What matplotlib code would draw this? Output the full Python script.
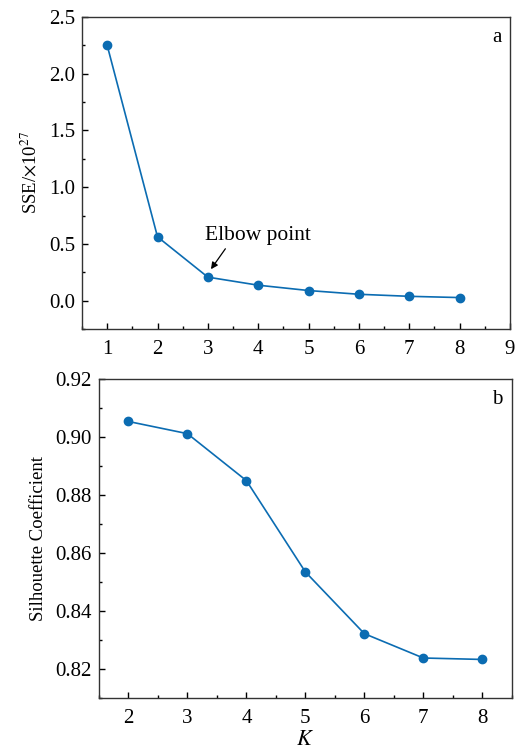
import matplotlib
matplotlib.use("Agg")
import matplotlib.pyplot as plt
from matplotlib.ticker import MultipleLocator

# Daten
k_sse = [1, 2, 3, 4, 5, 6, 7, 8]
sse = [2.25, 0.562, 0.207, 0.136, 0.089, 0.056, 0.038, 0.027]

k_sil = [2, 3, 4, 5, 6, 7, 8]
silhouette = [0.9054, 0.9012, 0.8850, 0.8535, 0.8322, 0.8238, 0.8233]

LINE_COLOR = "#0b6cb2"

plt.rcParams["font.family"] = ["Liberation Serif", "DejaVu Serif"]
plt.rcParams["mathtext.fontset"] = "stix"


def style_axes(ax, xminor, yminor):
    """Ticks nach innen, nur links und unten."""
    ax.xaxis.set_minor_locator(MultipleLocator(xminor))
    ax.yaxis.set_minor_locator(MultipleLocator(yminor))
    ax.tick_params(which="both", direction="in", top=False, right=False,
                   labelsize=15, width=1.0)
    ax.tick_params(which="major", length=4.5, pad=5)
    ax.tick_params(axis="x", which="major", pad=8)
    ax.tick_params(which="minor", length=2.5)
    for spine in ax.spines.values():
        spine.set_linewidth(1.0)
        spine.set_color("#333333")


fig = plt.figure(figsize=(5.18, 7.52), dpi=100)

# Oberes Diagramm (a): SSE
ax1 = fig.add_axes([0.1583, 0.5625, 0.826, 0.415])
ax1.plot(k_sse, sse, "-o", color=LINE_COLOR, lw=1.2, ms=6)
ax1.set_xlim(0.5, 9)
ax1.set_ylim(-0.25, 2.5)
ax1.set_xticks(range(1, 10))
ax1.set_yticks([0.0, 0.5, 1.0, 1.5, 2.0, 2.5])
ax1.set_yticklabels([f"{v:.1f}" for v in [0.0, 0.5, 1.0, 1.5, 2.0, 2.5]])
ax1.set_ylabel(r"SSE/$\times$10$^{27}$", fontsize=13.5, labelpad=6)
style_axes(ax1, 0.5, 0.25)
ax1.text(0.981, 0.965, "a", transform=ax1.transAxes, ha="right", va="top",
         fontsize=15)

# Elbow-Punkt markieren
elbow_x, elbow_y = k_sse[2], sse[2]
ax1.annotate("", xy=(elbow_x + 0.03, elbow_y + 0.05),
             xytext=(elbow_x + 0.38, elbow_y + 0.27),
             arrowprops=dict(arrowstyle="-|>", color="black", lw=0.9,
                             mutation_scale=10))
ax1.text(elbow_x + 0.99, elbow_y + 0.37, "Elbow point", ha="center",
         va="center", fontsize=15.5)

# Unteres Diagramm (b): Silhouette-Koeffizient
ax2 = fig.add_axes([0.191, 0.0718, 0.797, 0.424])
ax2.plot(k_sil, silhouette, "-o", color=LINE_COLOR, lw=1.2, ms=6)
ax2.set_xlim(1.5, 8.5)
ax2.set_ylim(0.81, 0.92)
ax2.set_xticks(range(2, 9))
ax2.set_yticks([0.82, 0.84, 0.86, 0.88, 0.90, 0.92])
ax2.set_yticklabels([f"{v:.2f}" for v in [0.82, 0.84, 0.86, 0.88, 0.90, 0.92]])
ax2.set_ylabel("Silhouette Coefficient", fontsize=13.5, labelpad=6)
ax2.set_xlabel("$K$", fontsize=16, labelpad=2)
style_axes(ax2, 0.5, 0.01)
ax2.text(0.978, 0.965, "b", transform=ax2.transAxes, ha="right", va="top",
         fontsize=15)

fig.savefig("out.png", dpi=100)
